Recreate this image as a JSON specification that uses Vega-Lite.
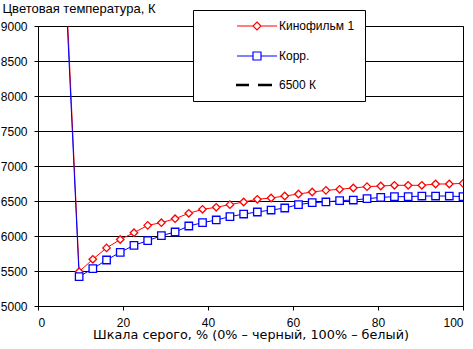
{
  "$schema": "https://vega.github.io/schema/vega-lite/v6.json",
  "width": 425,
  "height": 280,
  "autosize": {"type": "none"},
  "padding": {"left": 38, "top": 26, "right": 10, "bottom": 43},
  "background": "white",
  "config": {
    "font": "Liberation Sans",
    "view": {"stroke": "black", "strokeWidth": 1},
    "axis": {"domainColor": "black", "tickColor": "black", "labelColor": "black", "titleColor": "black", "labelFontSize": 12, "titleFontSize": 12, "titleFontWeight": "normal", "tickSize": 4, "labelFont": "Liberation Sans", "titleFont": "Liberation Sans"}
  },
  "datasets": {
    "curves": [
      {"x": 6.45, "y": 9750, "series": "Кинофильм 1"},
      {"x": 9.68, "y": 5490, "series": "Кинофильм 1"},
      {"x": 12.9, "y": 5667, "series": "Кинофильм 1"},
      {"x": 16.13, "y": 5830, "series": "Кинофильм 1"},
      {"x": 19.35, "y": 5950, "series": "Кинофильм 1"},
      {"x": 22.58, "y": 6047, "series": "Кинофильм 1"},
      {"x": 25.81, "y": 6152, "series": "Кинофильм 1"},
      {"x": 29.03, "y": 6190, "series": "Кинофильм 1"},
      {"x": 32.26, "y": 6247, "series": "Кинофильм 1"},
      {"x": 35.48, "y": 6324, "series": "Кинофильм 1"},
      {"x": 38.71, "y": 6381, "series": "Кинофильм 1"},
      {"x": 41.94, "y": 6410, "series": "Кинофильм 1"},
      {"x": 45.16, "y": 6448, "series": "Кинофильм 1"},
      {"x": 48.39, "y": 6486, "series": "Кинофильм 1"},
      {"x": 51.61, "y": 6524, "series": "Кинофильм 1"},
      {"x": 54.84, "y": 6543, "series": "Кинофильм 1"},
      {"x": 58.06, "y": 6571, "series": "Кинофильм 1"},
      {"x": 61.29, "y": 6600, "series": "Кинофильм 1"},
      {"x": 64.52, "y": 6629, "series": "Кинофильм 1"},
      {"x": 67.74, "y": 6652, "series": "Кинофильм 1"},
      {"x": 70.97, "y": 6667, "series": "Кинофильм 1"},
      {"x": 74.19, "y": 6686, "series": "Кинофильм 1"},
      {"x": 77.42, "y": 6705, "series": "Кинофильм 1"},
      {"x": 80.65, "y": 6714, "series": "Кинофильм 1"},
      {"x": 83.87, "y": 6724, "series": "Кинофильм 1"},
      {"x": 87.1, "y": 6724, "series": "Кинофильм 1"},
      {"x": 90.32, "y": 6724, "series": "Кинофильм 1"},
      {"x": 93.55, "y": 6743, "series": "Кинофильм 1"},
      {"x": 96.77, "y": 6743, "series": "Кинофильм 1"},
      {"x": 100, "y": 6752, "series": "Кинофильм 1"},
      {"x": 6.45, "y": 9600, "series": "Корр."},
      {"x": 9.68, "y": 5420, "series": "Корр."},
      {"x": 12.9, "y": 5533, "series": "Корр."},
      {"x": 16.13, "y": 5657, "series": "Корр."},
      {"x": 19.35, "y": 5767, "series": "Корр."},
      {"x": 22.58, "y": 5867, "series": "Корр."},
      {"x": 25.81, "y": 5933, "series": "Корр."},
      {"x": 29.03, "y": 6005, "series": "Корр."},
      {"x": 32.26, "y": 6057, "series": "Корр."},
      {"x": 35.48, "y": 6143, "series": "Корр."},
      {"x": 38.71, "y": 6190, "series": "Корр."},
      {"x": 41.94, "y": 6229, "series": "Корр."},
      {"x": 45.16, "y": 6276, "series": "Корр."},
      {"x": 48.39, "y": 6314, "series": "Корр."},
      {"x": 51.61, "y": 6343, "series": "Корр."},
      {"x": 54.84, "y": 6371, "series": "Корр."},
      {"x": 58.06, "y": 6400, "series": "Корр."},
      {"x": 61.29, "y": 6448, "series": "Корр."},
      {"x": 64.52, "y": 6476, "series": "Корр."},
      {"x": 67.74, "y": 6486, "series": "Корр."},
      {"x": 70.97, "y": 6505, "series": "Корр."},
      {"x": 74.19, "y": 6514, "series": "Корр."},
      {"x": 77.42, "y": 6533, "series": "Корр."},
      {"x": 80.65, "y": 6552, "series": "Корр."},
      {"x": 83.87, "y": 6562, "series": "Корр."},
      {"x": 87.1, "y": 6562, "series": "Корр."},
      {"x": 90.32, "y": 6571, "series": "Корр."},
      {"x": 93.55, "y": 6571, "series": "Корр."},
      {"x": 96.77, "y": 6571, "series": "Корр."},
      {"x": 100, "y": 6562, "series": "Корр."}
    ],
    "ref": [
      {"y": 6500, "series": "6500 К"}
    ]
  },
  "layer": [
    {
      "data": {"name": "ref"},
      "mark": {"type": "rule", "strokeWidth": 2, "strokeDash": [12, 10]},
      "encoding": {
        "y": {"field": "y", "type": "quantitative", "scale": {"domain": [5000, 9000]}},
        "color": {"field": "series", "type": "nominal"}
      }
    },
    {
      "data": {"name": "curves"},
      "mark": {"type": "line", "strokeWidth": 1, "clip": true},
      "encoding": {
        "x": {"field": "x", "type": "quantitative"},
        "y": {"field": "y", "type": "quantitative"},
        "color": {"field": "series", "type": "nominal"},
        "order": {"field": "x"}
      }
    },
    {
      "data": {"name": "curves"},
      "mark": {"type": "point", "filled": false, "fill": "white", "fillOpacity": 1, "opacity": 1, "strokeWidth": 1.3, "size": 56, "clip": true},
      "encoding": {
        "x": {"field": "x", "type": "quantitative"},
        "y": {"field": "y", "type": "quantitative"},
        "color": {"field": "series", "type": "nominal", "legend": null},
        "shape": {"field": "series", "type": "nominal", "legend": null, "scale": {"domain": ["Кинофильм 1", "Корр."], "range": ["diamond", "square"]}}
      }
    }
  ],
  "resolve": {"scale": {"color": "shared"}},
  "encoding": {
    "x": {
      "field": "x", "type": "quantitative",
      "scale": {"domain": [0, 100], "nice": false, "zero": false},
      "axis": {"values": [0, 20, 40, 60, 80, 100], "grid": false, "labelPadding": 7, "title": "Шкала серого, % (0% – черный, 100% – белый)", "titleY": 32, "titleBaseline": "alphabetic", "titleFont": "DejaVu Sans", "titleFontSize": 12.8}
    },
    "y": {
      "field": "y", "type": "quantitative",
      "scale": {"domain": [5000, 9000], "nice": false, "zero": false},
      "axis": {"values": [5000, 5500, 6000, 6500, 7000, 7500, 8000, 8500, 9000], "grid": true, "gridColor": "black", "gridOpacity": 1, "labelPadding": 7, "format": "d", "title": "Цветовая температура, К", "titleAngle": 0, "titleAlign": "left", "titleBaseline": "alphabetic", "titleX": -36, "titleY": -14, "titleFontSize": 13}
    },
    "color": {
      "field": "series", "type": "nominal",
      "scale": {"domain": ["Кинофильм 1", "Корр.", "6500 К"], "range": ["#ff0000", "#0000ff", "#000000"]},
      "legend": {
        "orient": "none", "legendX": 155, "legendY": -16,
        "title": null, "strokeColor": "black", "fillColor": "white", "padding": 10,
        "labelFontSize": 12, "labelFont": "Liberation Sans", "labelColor": "black",
        "symbolSize": 64, "rowPadding": 16, "labelOffset": 64,
        "encode": {
          "symbols": {
            "update": {
              "shape": {"signal": "datum.value === 'Кинофильм 1' ? 'M7,0H11M13,0H17M12,-1L13,0L12,1L11,0Z' : datum.value === 'Корр.' ? 'M7,0H11M13,0H17M11,-1H13V1H11Z' : 'M6.75,0H10M12.25,0H15.75'"},
              "fill": {"value": "white"},
              "fillOpacity": {"value": 1},
              "opacity": {"value": 1},
              "strokeDash": {"value": []},
              "stroke": {"scale": "color", "field": "value"},
              "strokeWidth": {"signal": "datum.value === '6500 К' ? 2.5 : 1.2"}
            }
          }
        }
      }
    }
  }
}
